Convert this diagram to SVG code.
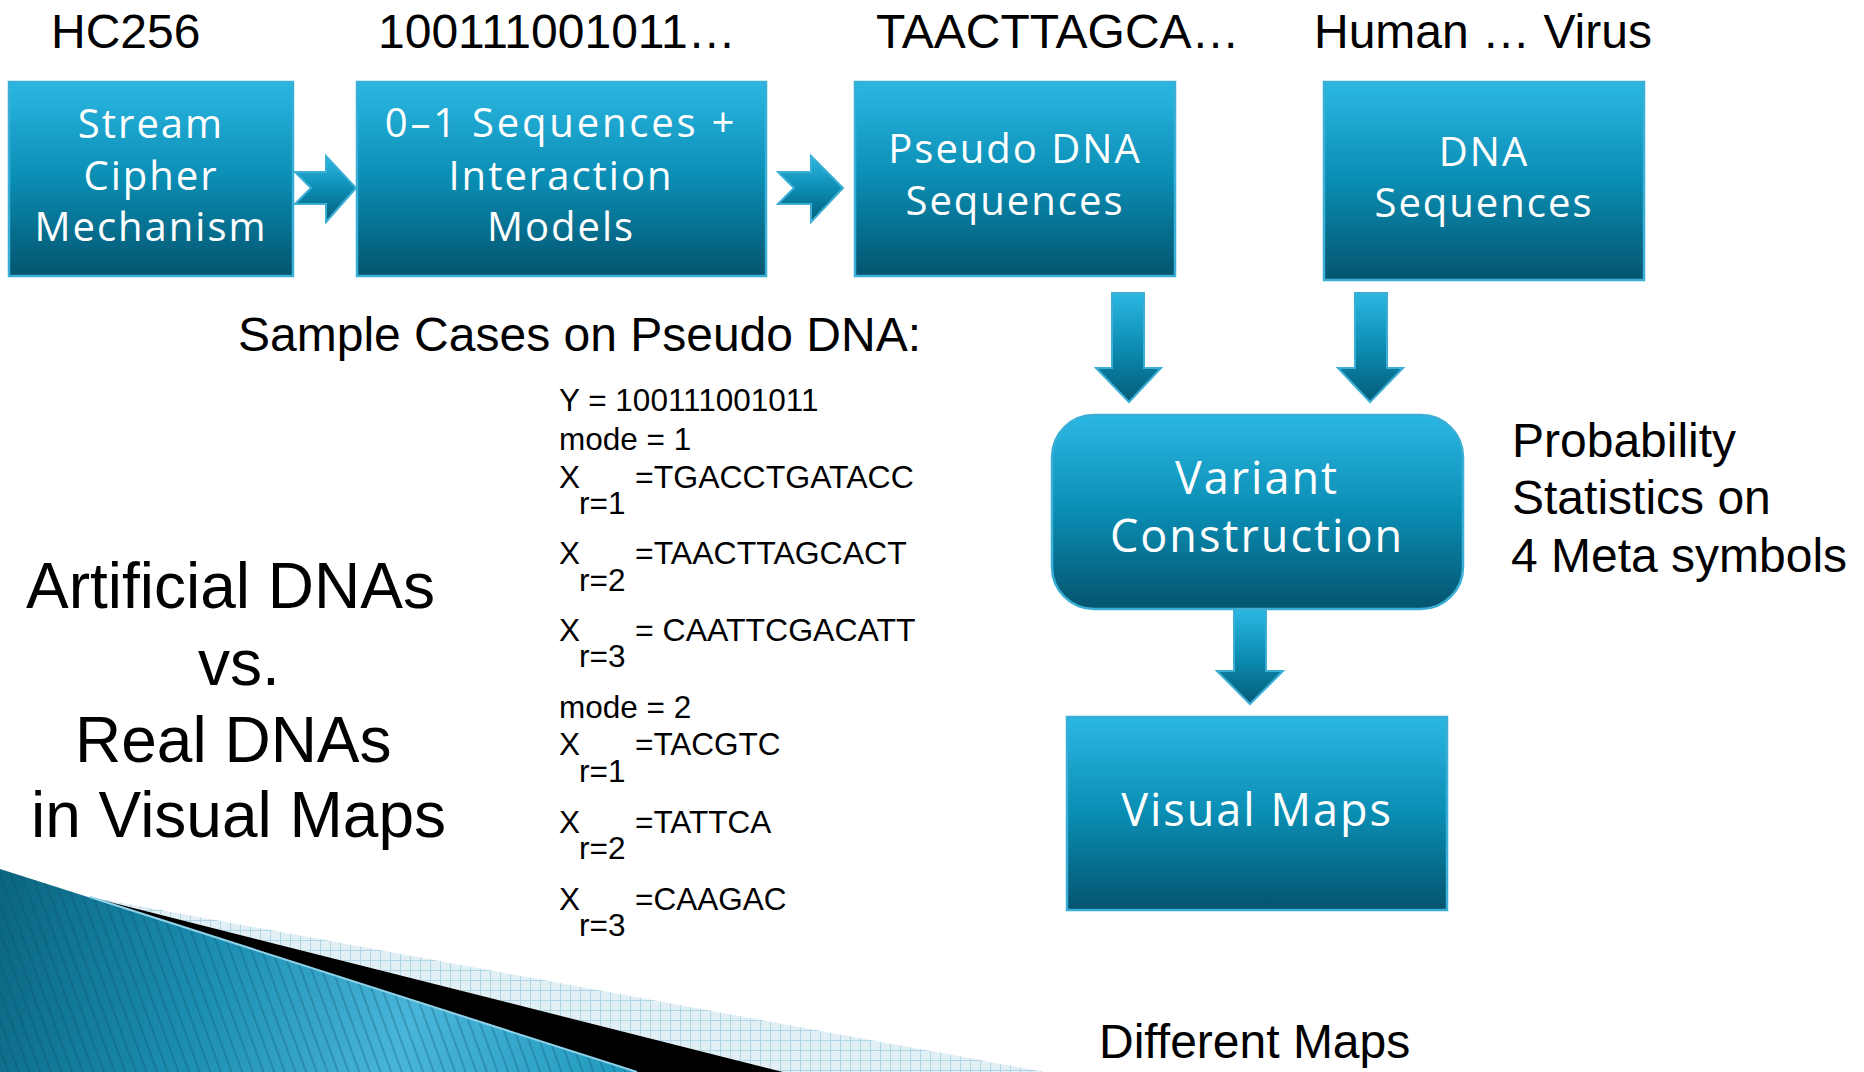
<svg xmlns="http://www.w3.org/2000/svg" width="1864" height="1072" viewBox="0 0 1864 1072">
<defs>
  <linearGradient id="boxGrad" x1="0" y1="0" x2="0" y2="1">
    <stop offset="0" stop-color="#2bb7e3"/>
    <stop offset="0.5" stop-color="#0a8db3"/>
    <stop offset="1" stop-color="#04546e"/>
  </linearGradient>
  <linearGradient id="arrGrad" x1="0" y1="0" x2="0" y2="1">
    <stop offset="0" stop-color="#2bb7e3"/>
    <stop offset="0.55" stop-color="#0a88ad"/>
    <stop offset="1" stop-color="#055c78"/>
  </linearGradient>
  <linearGradient id="tealGrad" gradientUnits="userSpaceOnUse" x1="0" y1="870" x2="640" y2="1072">
    <stop offset="0" stop-color="#0a6580"/>
    <stop offset="0.35" stop-color="#1c8fb3"/>
    <stop offset="0.65" stop-color="#4ab5da"/>
    <stop offset="1" stop-color="#1f98bd"/>
  </linearGradient>
  <pattern id="hatch" patternUnits="userSpaceOnUse" width="10" height="10" patternTransform="rotate(-20)">
    <line x1="1" y1="0" x2="1" y2="10" stroke="#0b4a5e" stroke-opacity="0.55" stroke-width="1"/>
  </pattern>
  <pattern id="grid" patternUnits="userSpaceOnUse" width="10" height="10">
    <rect width="10" height="10" fill="#e2f0f6"/>
    <path d="M0 0.5H10M0.5 0V10" stroke="#aed6e7" stroke-width="1"/>
  </pattern>
</defs>
<style>
  .box { fill: url(#boxGrad); stroke: #3aaed4; stroke-width: 2.5; }
  .arr { fill: url(#arrGrad); stroke: #3aaed4; stroke-width: 2; stroke-linejoin: miter; }
  .wt { font-family: "Open Sans", "Noto Sans", sans-serif; fill: #ffffff; font-size: 40px; letter-spacing: 2px; text-anchor: middle; }
  .wt.big { font-size: 45px; }
  .wt.wide { letter-spacing: 2.8px; }
  .bk { font-family: "Liberation Sans", Arial, sans-serif; fill: #000000; }
  .lab { font-size: 48px; }
  .side { font-size: 64px; }
  .smp { font-size: 31.5px; }
  .seq { font-size: 32px; }
</style>

<g id="decoration">
  <polygon points="0,869 637,1072 0,1072" fill="url(#tealGrad)"/>
  <polygon points="0,869 637,1072 0,1072" fill="url(#hatch)"/>
  <polygon points="90,897 1045,1072 783,1072" fill="url(#grid)"/>
  <polygon points="90,897 783,1072 637,1072" fill="#000000"/>
  <line x1="90" y1="897" x2="637" y2="1072" stroke="#8fd3ea" stroke-width="2"/>
</g>

<g id="top-labels" class="bk lab">
  <text x="51" y="48">HC256</text>
  <text x="378" y="48">100111001011…</text>
  <text x="876" y="48">TAACTTAGCA…</text>
  <text x="1314" y="48">Human … Virus</text>
</g>

<g id="node-stream-cipher">
  <rect class="box" x="9" y="82" width="284" height="194"/>
  <text class="wt" x="151" y="138">Stream</text>
  <text class="wt" x="151" y="190">Cipher</text>
  <text class="wt" x="151" y="241">Mechanism</text>
</g>

<g id="node-01-sequences">
  <rect class="box" x="357" y="82" width="409" height="194"/>
  <text class="wt wide" x="561" y="137">0–1 Sequences +</text>
  <text class="wt" x="561" y="190">Interaction</text>
  <text class="wt" x="561" y="241">Models</text>
</g>

<g id="node-pseudo-dna">
  <rect class="box" x="855" y="82" width="320" height="194"/>
  <text class="wt" x="1015" y="163">Pseudo DNA</text>
  <text class="wt" x="1015" y="215">Sequences</text>
</g>

<g id="node-dna">
  <rect class="box" x="1324" y="82" width="320" height="198"/>
  <text class="wt" x="1484" y="166">DNA</text>
  <text class="wt" x="1484" y="217">Sequences</text>
</g>

<g id="node-variant">
  <rect class="box" x="1052" y="415" width="411" height="194" rx="42" ry="42"/>
  <text class="wt big" x="1257" y="494">Variant</text>
  <text class="wt big" x="1257" y="552">Construction</text>
</g>

<g id="node-visual-maps">
  <rect class="box" x="1067" y="717" width="380" height="193"/>
  <text class="wt big" x="1257" y="826">Visual Maps</text>
</g>

<g id="connectors">
  <polygon class="arr" points="295,172 326,172 326,156 356,188 326,222 326,204 295,204 311,188"/>
  <polygon class="arr" points="778,172 811,172 811,156 843,188 811,222 811,204 778,204 794,188"/>
  <polygon class="arr" points="1112,293 1144,293 1144,368 1161,368 1129,402 1096,368 1112,368"/>
  <polygon class="arr" points="1355,293 1387,293 1387,368 1403,368 1370,402 1338,368 1355,368"/>
  <polygon class="arr" points="1234,610 1266,610 1266,671 1283,671 1250,704 1217,671 1234,671"/>
</g>

<g id="sample-cases" class="bk">
  <text x="238" y="351" font-size="48">Sample Cases on Pseudo DNA:</text>
  <g class="smp">
    <text x="559" y="411">Y = 100111001011</text>
    <text x="559" y="450">mode = 1</text>
    <text x="559" y="488">X</text><text class="seq" x="635" y="488">=TGACCTGATACC</text><text x="579" y="514">r=1</text>
    <text x="559" y="564">X</text><text class="seq" x="635" y="564">=TAACTTAGCACT</text><text x="579" y="591">r=2</text>
    <text x="559" y="641">X</text><text class="seq" x="635" y="641">= CAATTCGACATT</text><text x="579" y="667">r=3</text>
    <text x="559" y="718">mode = 2</text>
    <text x="559" y="755">X</text><text x="635" y="755">=TACGTC</text><text x="579" y="782">r=1</text>
    <text x="559" y="833">X</text><text x="635" y="833">=TATTCA</text><text x="579" y="859">r=2</text>
    <text x="559" y="910">X</text><text x="635" y="910">=CAAGAC</text><text x="579" y="936">r=3</text>
  </g>
</g>

<g id="side-title" class="bk side">
  <text x="26" y="608">Artificial DNAs</text>
  <text x="198" y="685">vs.</text>
  <text x="75" y="762">Real DNAs</text>
  <text x="31" y="837">in Visual Maps</text>
</g>

<g id="stats-label" class="bk lab">
  <text x="1512" y="457">Probability</text>
  <text x="1512" y="514">Statistics on</text>
  <text x="1511" y="572">4 Meta symbols</text>
</g>

<g id="maps-label" class="bk">
  <text x="1099" y="1058" font-size="48">Different Maps</text>
</g>
</svg>
